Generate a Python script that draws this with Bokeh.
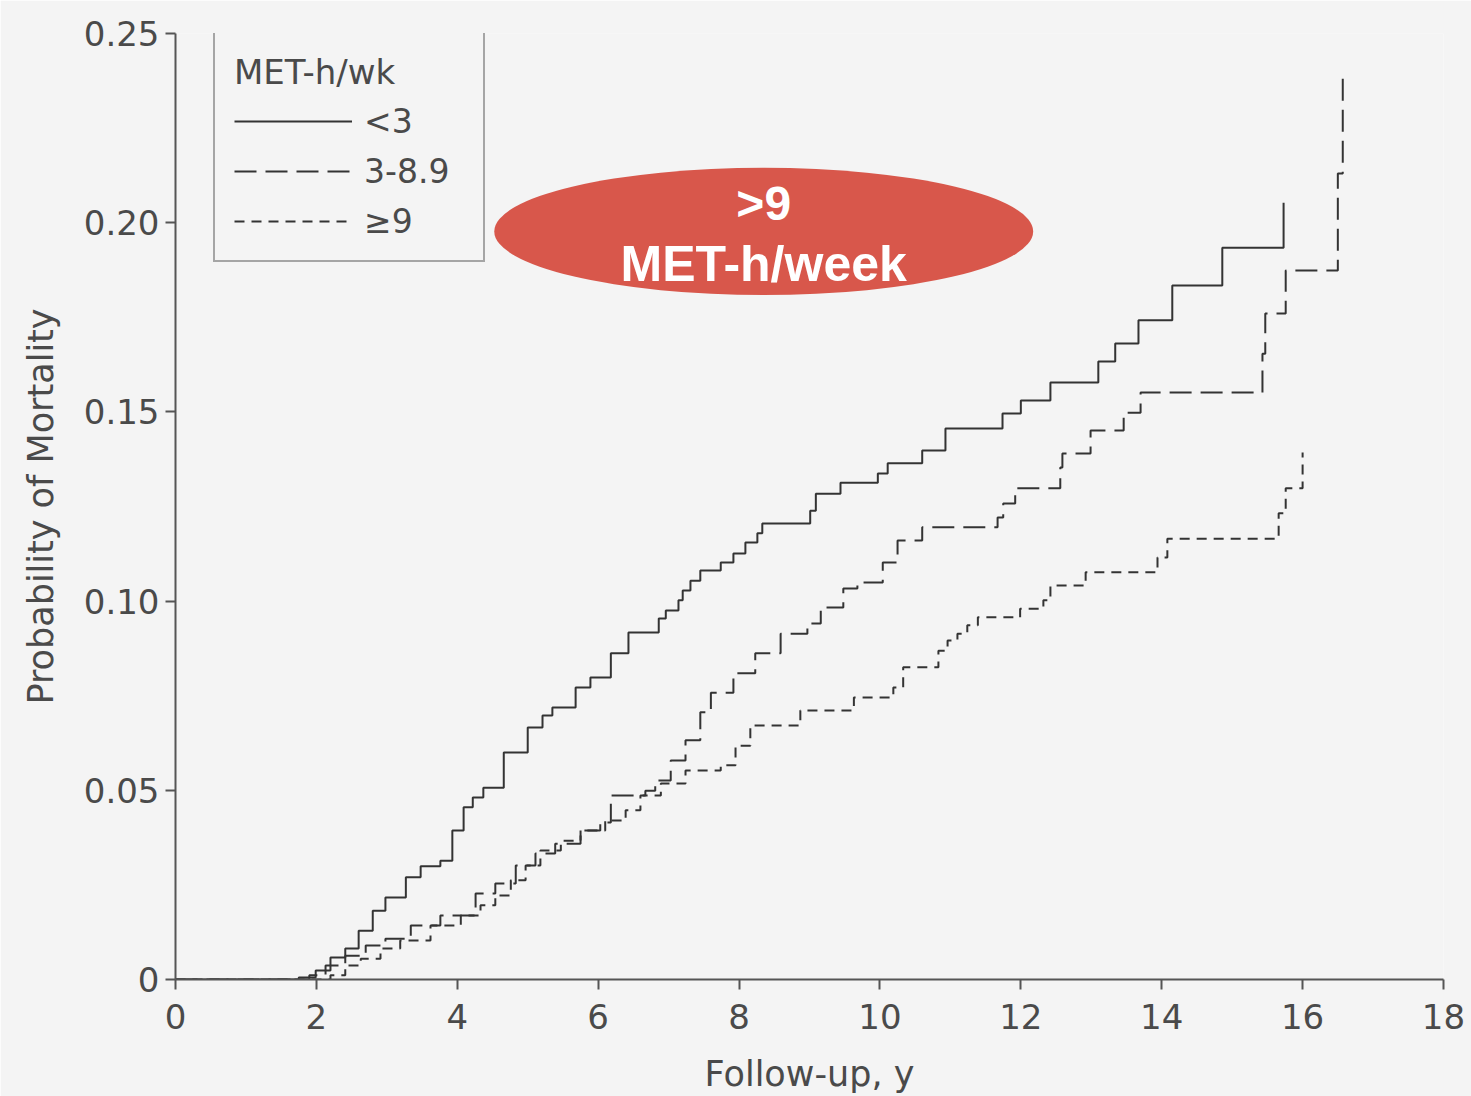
from bokeh.plotting import figure
from bokeh.models import (Range1d, FixedTicker, CustomJSTickFormatter, Legend, LegendItem)
from bokeh.core.properties import value
from bokeh.embed import file_html
from bokeh.resources import INLINE

# Cumulative mortality by physical activity group (step functions)
t_low = [0, 1.75, 1.99, 2.20, 2.41, 2.60, 2.80, 2.98, 3.27, 3.48, 3.76, 3.93, 4.09, 4.22, 4.37,
         4.66, 5.00, 5.21, 5.35, 5.68, 5.89, 6.18, 6.43, 6.86, 6.96, 7.14, 7.20, 7.31, 7.45,
         7.74, 7.92, 8.09, 8.26, 8.33, 9.01, 9.09, 9.44, 9.97, 10.11, 10.60, 10.93, 11.74,
         12.00, 12.42, 13.10, 13.34, 13.67, 14.15, 14.86, 15.73]
p_low = [0, 0.0005, 0.0024, 0.0058, 0.0082, 0.0129, 0.0182, 0.0217, 0.0270, 0.0299, 0.0314,
         0.0394, 0.0455, 0.0481, 0.0507, 0.0600, 0.0666, 0.0698, 0.0719, 0.0772, 0.0798,
         0.0862, 0.0917, 0.0954, 0.0975, 0.1002, 0.1028, 0.1054, 0.1081, 0.1102, 0.1126,
         0.1155, 0.1179, 0.1205, 0.1239, 0.1284, 0.1313, 0.1337, 0.1364, 0.1398, 0.1456,
         0.1496, 0.1530, 0.1578, 0.1633, 0.1681, 0.1742, 0.1834, 0.1934, 0.2053]

t_mid = [0, 1.90, 2.13, 2.41, 2.70, 2.98, 3.34, 3.76, 4.26, 4.54, 4.83, 5.11, 5.39, 5.75, 6.03,
         6.18, 6.67, 6.81, 7.03, 7.24, 7.45, 7.60, 7.92, 8.23, 8.59, 8.97, 9.16, 9.48, 9.68,
         10.04, 10.25, 10.60, 11.67, 11.75, 11.92, 12.56, 12.59, 12.99, 13.46, 13.70, 15.43,
         15.47, 15.76, 16.50, 16.57]
p_mid = [0, 0.0011, 0.0037, 0.0063, 0.0090, 0.0108, 0.0143, 0.0169, 0.0227, 0.0254, 0.0301,
         0.0333, 0.0359, 0.0394, 0.0415, 0.0486, 0.0499, 0.0526, 0.0579, 0.0632, 0.0706,
         0.0758, 0.0809, 0.0862, 0.0914, 0.0941, 0.0983, 0.1033, 0.1049, 0.1102, 0.1160,
         0.1195, 0.1221, 0.1258, 0.1298, 0.1353, 0.1390, 0.1451, 0.1498, 0.1551, 0.1654,
         0.1760, 0.1874, 0.2130, 0.2394]

t_high = [0, 2.20, 2.41, 2.63, 2.91, 3.19, 3.62, 4.05, 4.33, 4.54, 4.76, 4.97, 5.18, 5.47, 5.75,
          6.10, 6.39, 6.60, 6.89, 7.24, 7.74, 7.95, 8.16, 8.87, 9.63, 10.19, 10.33, 10.83,
          10.96, 11.10, 11.24, 11.39, 11.99, 12.32, 12.42, 12.92, 13.94, 14.08, 15.66, 15.76,
          16.00]
p_high = [0, 0.0011, 0.0037, 0.0055, 0.0082, 0.0103, 0.0143, 0.0169, 0.0196, 0.0222, 0.0262,
          0.0301, 0.0341, 0.0367, 0.0394, 0.0420, 0.0447, 0.0486, 0.0518, 0.0552, 0.0566,
          0.0618, 0.0671, 0.0711, 0.0745, 0.0772, 0.0825, 0.0869, 0.0896, 0.0914, 0.0936,
          0.0957, 0.0980, 0.1002, 0.1041, 0.1076, 0.1115, 0.1165, 0.1232, 0.1298, 0.1393]

group_labels = ["<3", "3-8.9", "\u22659"]
x_ticks = [0, 2, 4, 6, 8, 10, 12, 14, 16, 18]
y_ticks = [0, 0.05, 0.10, 0.15, 0.20, 0.25]

BG = "#f4f4f4"
INK = "#333333"
TXT = "#4a4a4a"
FONT = "DejaVu Sans"
BOLD_FONT = "Liberation Sans"

p = figure(width=1471, height=1096, output_backend="svg", toolbar_location=None,
           x_range=Range1d(0, 18), y_range=Range1d(0, 0.25),
           min_border_left=175, min_border_right=28, min_border_top=33, min_border_bottom=117)
p.background_fill_color = BG
p.border_fill_color = BG
p.outline_line_color = None
p.grid.visible = False

r_low = p.step(t_low, p_low, mode="after", line_color=INK, line_width=2)
r_mid = p.step(t_mid, p_mid, mode="after", line_color=INK, line_width=2, line_dash="22 9")
r_high = p.step(t_high, p_high, mode="after", line_color=INK, line_width=2, line_dash="10 7")

# highlighted callout
p.ellipse(x=[8.35], y=[0.1977], width=7.65, height=0.0336,
          fill_color="#d8574b", line_color=None)
p.text(x=[8.35], y=[0.2050], text=[">9"], text_align="center", text_baseline="middle",
       text_color="white", text_font=value(BOLD_FONT), text_font_style="bold",
       text_font_size="48px")
p.text(x=[8.35], y=[0.1892], text=["MET-h/week"], text_align="center", text_baseline="middle",
       text_color="white", text_font=value(BOLD_FONT), text_font_style="bold",
       text_font_size="50px")

for ax in (p.xaxis, p.yaxis):
    ax.axis_line_color = "#555555"
    ax.axis_line_width = 2
    ax.major_tick_line_color = "#555555"
    ax.major_tick_line_width = 2
    ax.major_tick_out = 10
    ax.major_tick_in = 0
    ax.minor_tick_line_color = None
    ax.major_label_text_font = FONT
    ax.major_label_text_font_size = "34px"
    ax.major_label_text_color = TXT
    ax.axis_label_text_font = FONT
    ax.axis_label_text_font_size = "35px"
    ax.axis_label_text_font_style = "normal"
    ax.axis_label_text_color = TXT

p.xaxis.ticker = FixedTicker(ticks=x_ticks)
p.yaxis.ticker = FixedTicker(ticks=y_ticks)
p.yaxis.formatter = CustomJSTickFormatter(code="return tick == 0 ? '0' : tick.toFixed(2);")
p.xaxis.axis_label = "Follow-up, y"
p.yaxis.axis_label = "Probability of Mortality"
p.xaxis.major_label_standoff = 14
p.yaxis.major_label_standoff = 6
p.xaxis.axis_label_standoff = 22
p.yaxis.axis_label_standoff = 20

legend = Legend(items=[LegendItem(label=group_labels[0], renderers=[r_low]),
                       LegendItem(label=group_labels[1], renderers=[r_mid]),
                       LegendItem(label=group_labels[2], renderers=[r_high])],
                location=(38, 717), title="MET-h/wk")
legend.title_text_font = FONT
legend.title_text_font_size = "34px"
legend.title_text_font_style = "normal"
legend.title_text_color = TXT
legend.title_standoff = 9
legend.label_text_font = FONT
legend.label_text_font_size = "33px"
legend.label_text_color = TXT
legend.glyph_width = 118
legend.glyph_height = 40
legend.label_height = 40
legend.label_standoff = 12
legend.label_width = 100
legend.spacing = 10
legend.padding = 19
legend.margin = 0
legend.border_line_color = "#555555"
legend.border_line_width = 2
legend.background_fill_color = BG
legend.background_fill_alpha = 1.0
p.add_layout(legend, "center")

open("out.html", "w").write(file_html(p, INLINE))
